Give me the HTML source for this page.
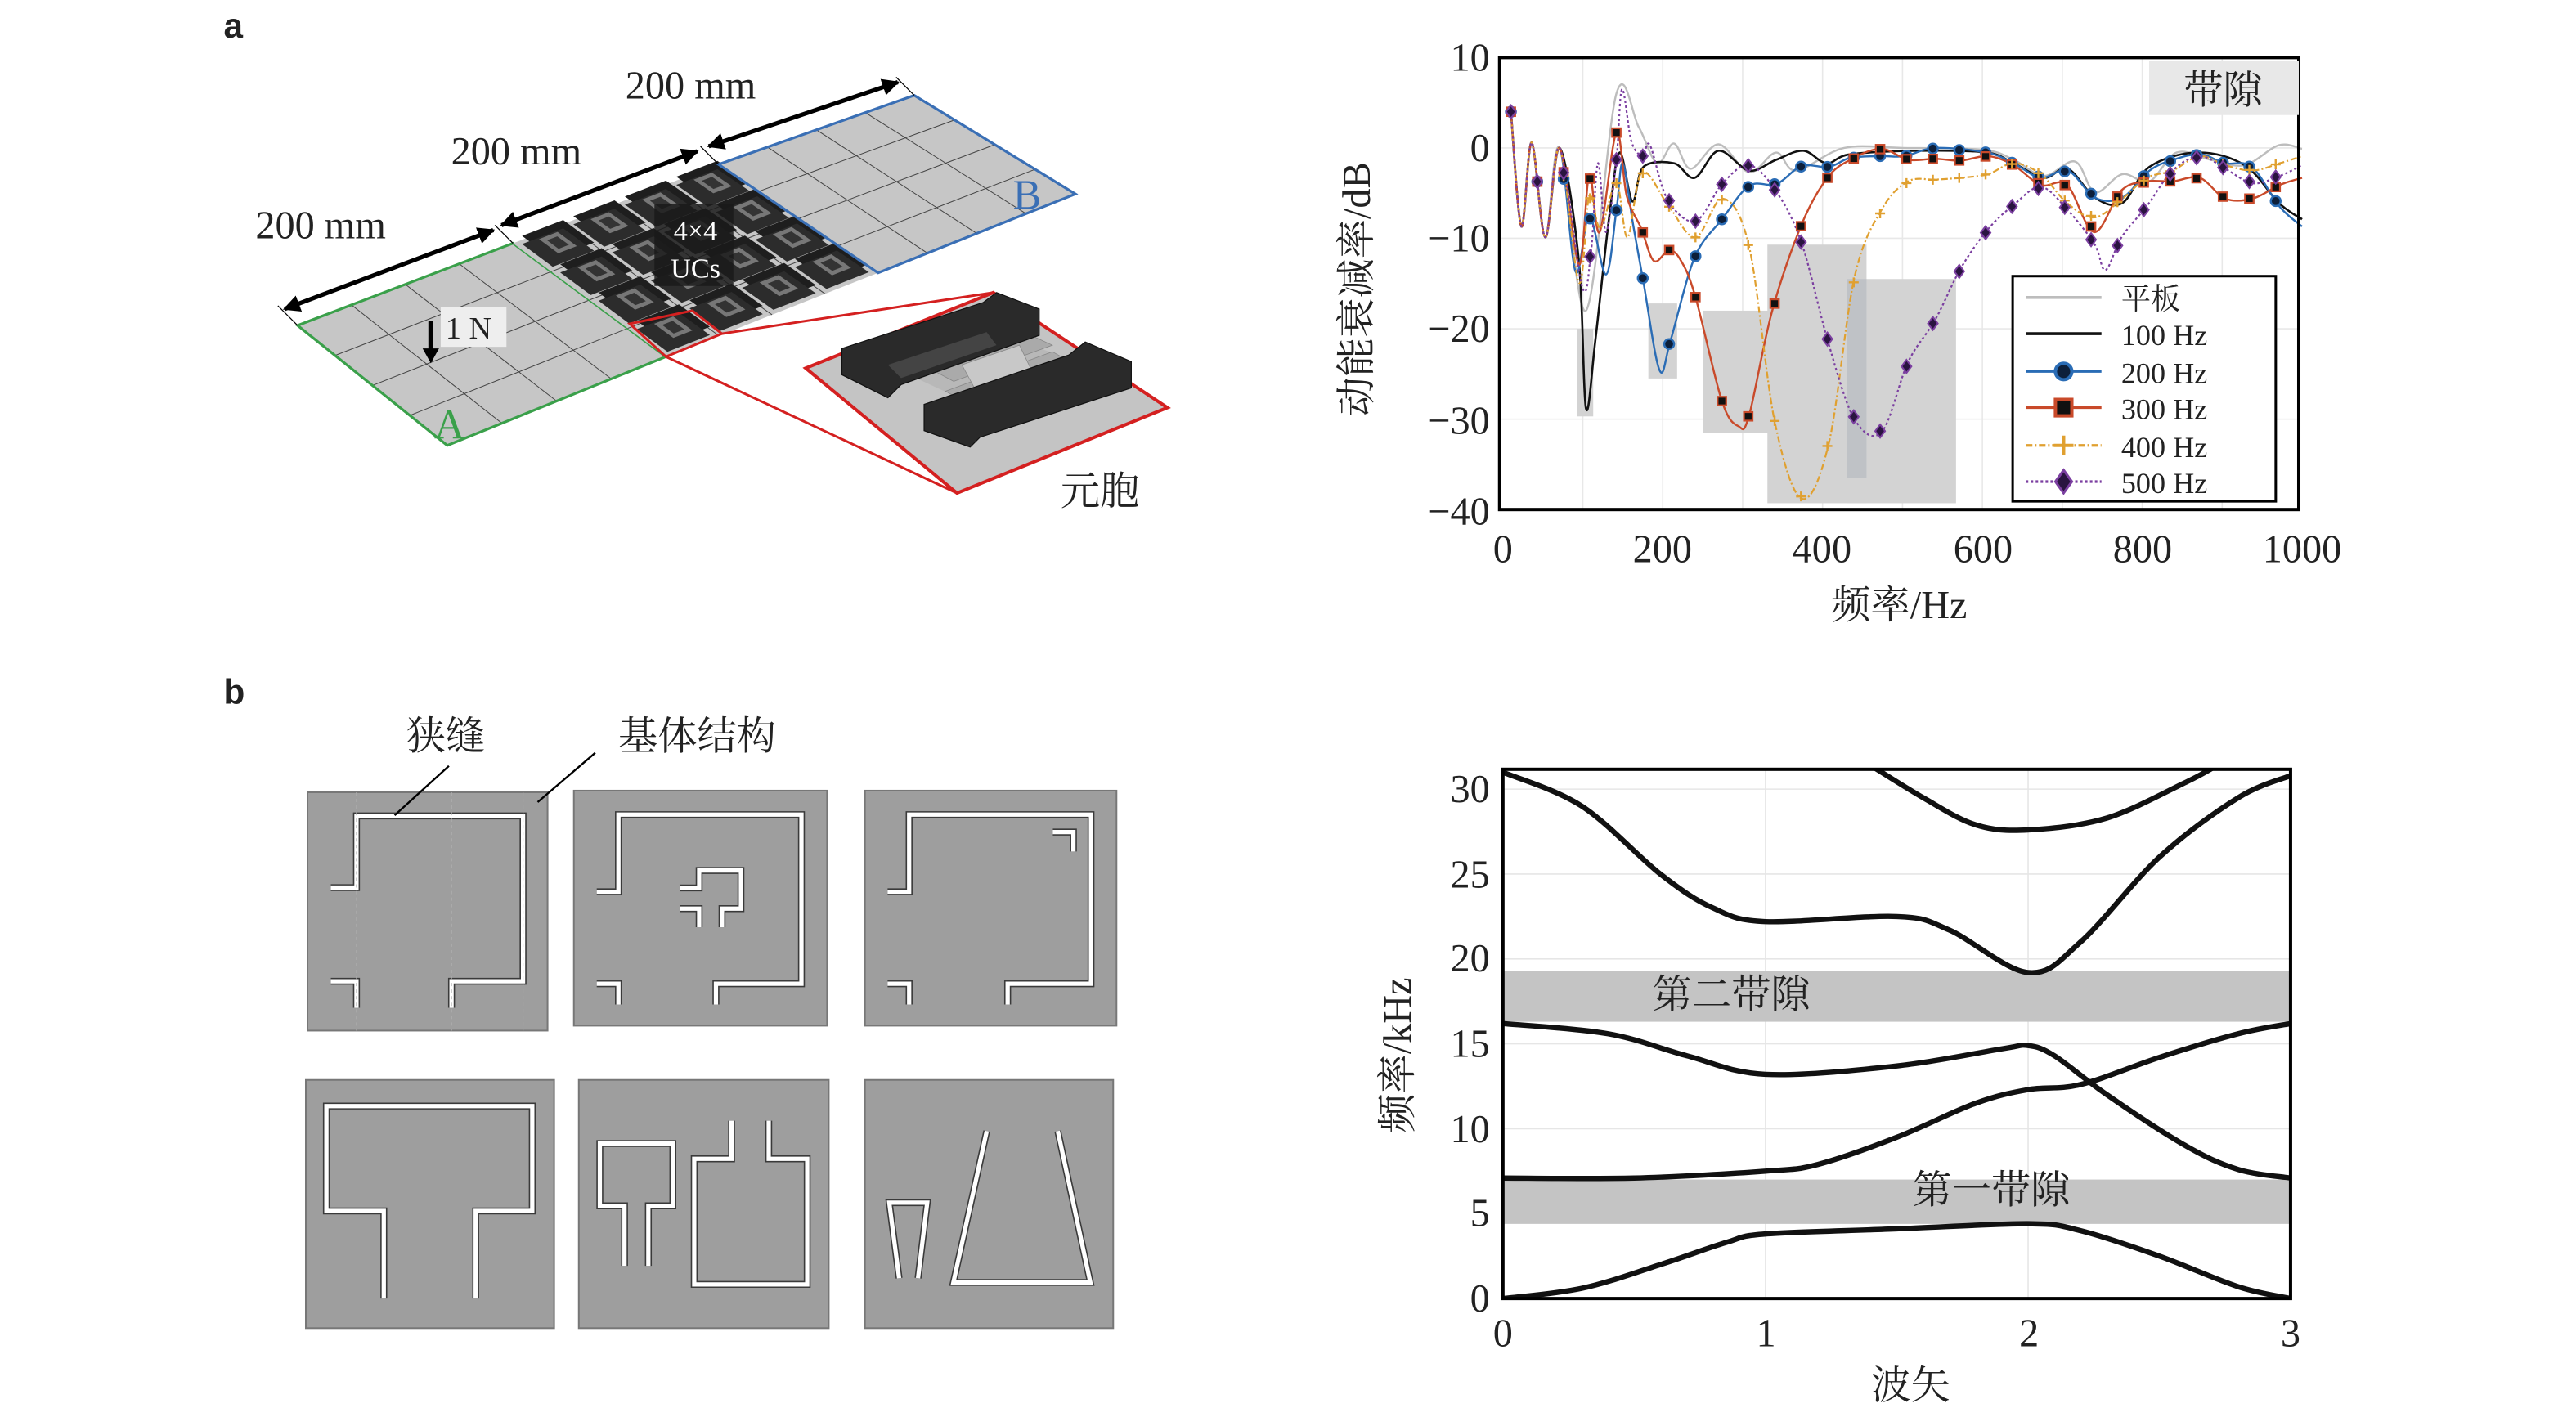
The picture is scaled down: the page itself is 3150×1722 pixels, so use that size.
<!DOCTYPE html>
<html><head><meta charset="utf-8">
<style>
html,body{margin:0;padding:0;background:#fff;}
svg{display:block;}
text{font-family:"Liberation Serif","Noto Serif CJK SC","Noto Sans CJK SC",serif;fill:#222;}
.b{font-family:"Liberation Sans",sans-serif;font-weight:bold;}
</style></head>
<body>
<svg id="s" width="3150" height="1722" viewBox="0 0 1566.6 856.6" preserveAspectRatio="none" xmlns="http://www.w3.org/2000/svg">
<defs>
<marker id="ah" viewBox="0 0 10 10" refX="9" refY="5" markerWidth="4" markerHeight="4" orient="auto-start-reverse"><path d="M0,0 L10,5 L0,10 z" fill="#000"/></marker>
</defs>
<rect width="1570" height="860" fill="#fff"/>
<text x="136" y="23" class="b" font-size="21">a</text>
<text x="136" y="428" class="b" font-size="21">b</text>

<!-- panel a 3D -->
<g id="plates"></g>
<g stroke="#000" stroke-width="0.6">
<line x1="181" y1="198" x2="169" y2="186"/><line x1="312" y1="148" x2="301" y2="137"/>
<line x1="437" y1="100" x2="426" y2="89"/><line x1="556" y1="58" x2="545" y2="47"/>
</g>
<g stroke="#000" stroke-width="2.6" marker-start="url(#ah)" marker-end="url(#ah)">
<line x1="173" y1="188" x2="300" y2="140"/>
<line x1="305" y1="137" x2="424" y2="92"/>
<line x1="431" y1="89" x2="546" y2="50"/>
</g>
<text x="195" y="145" font-size="24" text-anchor="middle">200 mm</text>
<text x="314" y="100" font-size="24" text-anchor="middle">200 mm</text>
<text x="420" y="60" font-size="24" text-anchor="middle">200 mm</text>
<rect x="268" y="187" width="40" height="24" fill="#eee"/>
<text x="271" y="206" font-size="19">1 N</text>
<line x1="262" y1="195" x2="262" y2="214" stroke="#000" stroke-width="3"/>
<path d="M257,212 L267,212 L262,221 z" fill="#000"/>
<text x="264" y="267" font-size="26" style="fill:#3aa04a">A</text>
<text x="616" y="127" font-size="26" style="fill:#3a6fb5">B</text>
<rect x="398" y="124" width="48" height="50" fill="#1a1a1a" opacity="0.85"/>
<text x="423" y="146" font-size="17" text-anchor="middle" style="fill:#fff">4×4</text>
<text x="423" y="169" font-size="17" text-anchor="middle" style="fill:#fff">UCs</text>
<!-- red zoom -->
<polygon points="383,197 421,189 439,203 405,217" fill="none" stroke="#d42020" stroke-width="1.5"/>
<line x1="439" y1="203" x2="604" y2="178" stroke="#d42020" stroke-width="1.5"/>
<line x1="405" y1="217" x2="582" y2="300" stroke="#d42020" stroke-width="1.5"/>
<polygon points="490,224 604,178 710,248 582,300" fill="#c4c4c4" stroke="#d42020" stroke-width="2"/>
<!-- unit cell 3D -->
<polygon points="540,222 600,200 660,222 600,250" fill="#b8b8b8"/>
<g fill="#aaa" stroke="#888" stroke-width="0.4">
<polygon points="548,215 610,196 640,210 580,232"/>
<polygon points="575,238 640,214 665,228 600,252"/>
<polygon points="585,222 620,210 632,235 598,246" fill="#c8c8c8"/>
</g>
<g fill="#2a2a2a" stroke="#111" stroke-width="0.6">
<polygon points="512,212 598,184 606,178 632,188 632,204 548,234 540,242 512,228"/>
<polygon points="562,246 650,216 660,208 688,220 688,236 596,266 590,272 562,262"/>
</g>
<polygon points="540,222 600,202 606,210 548,230" fill="#444"/>
<text x="645" y="307" font-size="24" style="fill:#222">元胞</text>

<!-- top chart -->
<g id="topgrid" stroke="#e8e8e8" stroke-width="0.8"></g>
<g id="gaps" fill="#d4d4d4"></g>
<g id="curves" fill="none"></g>
<g id="marks"></g>
<rect x="912" y="35" width="486" height="275" fill="none" stroke="#000" stroke-width="2"/>
<rect x="1307" y="37" width="91" height="33" fill="#e8e8e8"/>
<text x="1352" y="63" font-size="24" text-anchor="middle">带隙</text>
<rect x="1224" y="168" width="160" height="137" fill="#fff" stroke="#000" stroke-width="1.5"/>
<g id="legend"></g>
<g font-size="18">
<text x="1290" y="188">平板</text>
<text x="1290" y="210">100 Hz</text>
<text x="1290" y="233">200 Hz</text>
<text x="1290" y="255">300 Hz</text>
<text x="1290" y="278">400 Hz</text>
<text x="1290" y="300">500 Hz</text>
</g>
<g font-size="24" text-anchor="end">
<text x="906" y="43">10</text>
<text x="906" y="98">0</text>
<text x="906" y="153">−10</text>
<text x="906" y="208">−20</text>
<text x="906" y="264">−30</text>
<text x="906" y="319">−40</text>
</g>
<g font-size="24" text-anchor="middle">
<text x="914" y="342">0</text>
<text x="1011" y="342">200</text>
<text x="1108" y="342">400</text>
<text x="1206" y="342">600</text>
<text x="1303" y="342">800</text>
<text x="1400" y="342">1000</text>
<text x="1155" y="376">频率/Hz</text>
</g>
<text transform="translate(833,176) rotate(-90)" font-size="24" text-anchor="middle">动能衰减率/dB</text>

<!-- panel b cells -->
<g id="cells"></g>
<text x="247" y="456" font-size="24">狭缝</text>
<text x="376" y="456" font-size="24">基体结构</text>
<line x1="273" y1="466" x2="240" y2="496" stroke="#000" stroke-width="1.2"/>
<line x1="362" y1="458" x2="327" y2="488" stroke="#000" stroke-width="1.2"/>

<!-- band chart -->
<g id="bgrid" stroke="#e6e6e6" stroke-width="0.8"></g>
<rect x="914" y="717.6" width="479" height="27" fill="#c4c4c4"/>
<rect x="914" y="590.6" width="479" height="31" fill="#c4c4c4"/>
<text x="1005" y="613" font-size="24">第二带隙</text>
<text x="1163" y="732" font-size="24">第一带隙</text>
<g id="bands" fill="none" stroke="#111" stroke-width="3.2"></g>
<rect x="914" y="468" width="479" height="322" fill="none" stroke="#000" stroke-width="2"/>
<g font-size="24" text-anchor="end">
<text x="906" y="488">30</text>
<text x="906" y="540">25</text>
<text x="906" y="591">20</text>
<text x="906" y="643">15</text>
<text x="906" y="695">10</text>
<text x="906" y="746">5</text>
<text x="906" y="798">0</text>
</g>
<g font-size="24" text-anchor="middle">
<text x="914" y="819">0</text>
<text x="1074" y="819">1</text>
<text x="1234" y="819">2</text>
<text x="1393" y="819">3</text>
<text x="1162" y="851">波矢</text>
</g>
<text transform="translate(858,642) rotate(-90)" font-size="24" text-anchor="middle">频率/kHz</text>
</svg>
<script>
(function(){
var NS="http://www.w3.org/2000/svg";
function el(p,t,a){var e=document.createElementNS(NS,t);for(var k in a)e.setAttribute(k,a[k]);p.appendChild(e);return e;}
function $(i){return document.getElementById(i);}
function L(a,b,t){return [a[0]+(b[0]-a[0])*t,a[1]+(b[1]-a[1])*t];}
function bil(c,u,v){var a=L(c[0],c[1],u),b=L(c[3],c[2],u);return L(a,b,v);}
function pts(a){return a.map(function(p){return p[0].toFixed(1)+","+p[1].toFixed(1)}).join(" ");}
var g=$("plates");
var A=[[181,198],[312,148],[405,217],[272,271]],M=[[312,148],[437,100],[534,166],[405,217]],B=[[437,100],[556,58],[654,118],[534,166]];
[A,M,B].forEach(function(c,k){
 el(g,"polygon",{points:pts(c),fill:"#c6c6c6"});
 for(var i=1;i<4;i++){
  var a=L(c[0],c[1],i/4),b=L(c[3],c[2],i/4);el(g,"line",{x1:a[0],y1:a[1],x2:b[0],y2:b[1],stroke:"#444","stroke-width":0.5});
  a=L(c[0],c[3],i/4);b=L(c[1],c[2],i/4);el(g,"line",{x1:a[0],y1:a[1],x2:b[0],y2:b[1],stroke:"#444","stroke-width":0.5});
 }
 if(k==1){
  for(var i=0;i<4;i++)for(var j=0;j<4;j++){
   var q=function(u0,v0,u1,v1,dy){return [bil(c,(i+u0)/4,(j+v0)/4),bil(c,(i+u1)/4,(j+v0)/4),bil(c,(i+u1)/4,(j+v1)/4),bil(c,(i+u0)/4,(j+v1)/4)].map(function(p){return [p[0],p[1]-dy]});};
   el(g,"polygon",{points:pts(q(0.1,0.1,0.9,0.9,5)),fill:"#1e1e1e"});
   el(g,"polygon",{points:pts(q(0.1,0.1,0.9,0.9,0)),fill:"#2c2c2c"});
   el(g,"polygon",{points:pts(q(0.32,0.25,0.68,0.75,3)),fill:"#777"});
   el(g,"polygon",{points:pts(q(0.4,0.35,0.6,0.65,3)),fill:"#333"});
  }
 }
 el(g,"polygon",{points:pts(c),fill:"none",stroke:k==0?"#3aa04a":(k==2?"#3a6fb5":"none"),"stroke-width":1.6});
});
var tg=$("topgrid");
function X(h){return 914+0.486*h;} function Y(d){return 90-5.5*d;}
for(var h=100;h<1000;h+=100)el(tg,"line",{x1:X(h),y1:35,x2:X(h),y2:310});
for(var d=0;d>-40;d-=10)el(tg,"line",{x1:912,y1:Y(d),x2:1398,y2:Y(d)});
var gp=$("gaps");
[[93,113,-20,-29.7],[182,218,-17.2,-25.5],[250,336,-18,-31.5],[331,455,-10.7,-39.3],[431,567,-14.5,-39.3]].forEach(function(r){
 el(gp,"rect",{x:X(r[0]),y:Y(r[2]),width:X(r[1])-X(r[0]),height:Y(r[3])-Y(r[2]),fill:"#d3d3d3"});});
el(gp,"rect",{x:X(431),y:Y(-14.5),width:X(455)-X(431),height:Y(-36.5)-Y(-14.5),fill:"#bfc2c6"});
var pre=[[10,4],[23,-8.7],[36,0.6],[53,-9.9],[71,0]];
var D={
plate:[[104,-18],[142,6],[170,2.3],[193,-1.7],[214,0.5],[235,-2.3],[270,0.4],[308,-2.7],[342,-0.5],[367,-2.5],[427,0],[500,0],[600,-0.2],[639,-1.3],[677,-3.1],[716,-1.5],[741,-4.9],[775,-2.9],[809,-3.7],[843,-0.5],[886,-1.3],[928,-1.9],[971,0.3],[1000,-0.1]],
h100:[[95,-12.5],[104,-28.8],[116,-21],[133,-7.7],[146,-0.5],[162,-5.9],[176,-2.1],[214,-1.7],[240,-3.3],[270,-0.3],[308,-2.5],[342,-1.3],[376,-0.3],[405,-1.7],[435,-0.7],[520,-0.3],[605,-0.5],[639,-1.7],[677,-3.3],[707,-2.3],[741,-5.5],[775,-6.1],[809,-2.1],[869,-0.5],[928,-1.9],[971,-6.1],[1000,-7.9]],
h200:[[91,-13.7],[108,-7.5],[129,-14],[142,-6.9],[150,-1.7],[163,-8.5],[176,-14.9],[196,-24.6],[210,-21.2],[240,-12.1],[274,-7.9],[308,-4.2],[342,-4],[374,-2],[408,-2.1],[435,-1.1],[473,-0.9],[503,-0.9],[541,0],[605,-0.5],[639,-1.7],[673,-3.3],[707,-2.5],[741,-5.5],[775,-5.5],[809,-2.5],[839,-1.3],[873,-0.7],[903,-1.7],[937,-2.1],[972,-6.5],[1000,-8.7]],
h300:[[95,-12.9],[108,-2.9],[121,-9.3],[142,1.7],[155,-5.3],[173,-8.9],[189,-12.5],[208,-11.3],[223,-12.5],[241,-16.5],[274,-28],[295,-30.8],[308,-29.6],[337,-18],[374,-8.4],[406,-3.3],[435,-1.3],[473,-0.1],[507,-1.3],[541,-1.2],[573,-1.4],[607,-0.9],[639,-1.9],[673,-4.1],[706,-4.1],[740,-9.3],[774,-4.7],[806,-3.7],[838,-3.7],[872,-3.3],[904,-5.6],[938,-5.6],[972,-4.1],[1000,-3.3]],
h400:[[95,-14.9],[108,-5.3],[122,-8.9],[142,-3.9],[156,-9.9],[174,-2.7],[208,-6.5],[241,-9.9],[275,-5.6],[308,-10.9],[340,-30.2],[374,-38.8],[408,-32.6],[440,-14.3],[474,-6.8],[507,-3.7],[541,-3.5],[573,-3.3],[607,-2.9],[639,-1.7],[673,-2.9],[706,-6.1],[740,-7.7],[774,-5.7],[806,-3.3],[838,-2.5],[872,-0.9],[904,-1.9],[938,-2.5],[972,-1.7],[1000,-0.9]],
h500:[[99,-15.3],[110,-11.7],[119,-1.7],[129,-9.3],[142,-1.3],[149,6.5],[161,0.7],[175,-0.9],[184,0.3],[206,-5.7],[241,-8.1],[275,-3.9],[308,-1.9],[342,-4.8],[374,-10.6],[408,-21.8],[440,-30],[474,-31.4],[507,-23.7],[541,-19],[573,-13.3],[607,-9],[639,-6.3],[673,-4.3],[706,-6.8],[740,-10.6],[754,-13.5],[774,-9.9],[806,-6.4],[838,-2.5],[872,-0.9],[904,-2.3],[938,-3.9],[972,-3.1],[1000,-1.9]]};
function cr(P){var s="M"+P[0][0].toFixed(1)+","+P[0][1].toFixed(1);
 for(var i=0;i<P.length-1;i++){var p0=P[Math.max(0,i-1)],p1=P[i],p2=P[i+1],p3=P[Math.min(P.length-1,i+2)];
  var c1=[p1[0]+(p2[0]-p0[0])/6,p1[1]+(p2[1]-p0[1])/6],c2=[p2[0]-(p3[0]-p1[0])/6,p2[1]-(p3[1]-p1[1])/6];
  s+=" C"+c1[0].toFixed(1)+","+c1[1].toFixed(1)+" "+c2[0].toFixed(1)+","+c2[1].toFixed(1)+" "+p2[0].toFixed(1)+","+p2[1].toFixed(1);}
 return s;}
var st={plate:["#bdbdbd",1.2,""],h100:["#111",1.3,""],h200:["#2a6cb5",1.2,""],h300:["#c94a2a",1.2,""],h400:["#e0a030",1.1,"4 1.5 1 1.5"],h500:["#7b3fa0",1.1,"1.5 1.5"]};
var cv=$("curves"),mk=$("marks");
function drawMark(p,k,x,y){
 if(k=="h200")el(p,"circle",{cx:x,cy:y,r:3,fill:"#0d1f3a",stroke:"#2a6cb5","stroke-width":1.2});
 if(k=="h300")el(p,"rect",{x:x-2.6,y:y-2.6,width:5.2,height:5.2,fill:"#111",stroke:"#c94a2a","stroke-width":1.1});
 if(k=="h400"){el(p,"path",{d:"M"+(x-3)+","+y+"H"+(x+3)+"M"+x+","+(y-3)+"V"+(y+3),stroke:"#e0a030","stroke-width":1.2});}
 if(k=="h500")el(p,"polygon",{points:x+","+(y-4)+" "+(x+3)+","+y+" "+x+","+(y+4)+" "+(x-3)+","+y,fill:"#2a1440",stroke:"#7b3fa0","stroke-width":1});
}
["plate","h100","h200","h300","h400","h500"].forEach(function(k){
 var data=pre.concat(D[k]);var P=data.map(function(p){return [X(p[0]),Y(p[1])]});
 el(cv,"path",{d:cr(P),stroke:st[k][0],"stroke-width":st[k][1],"stroke-dasharray":st[k][2]});
 if(k=="plate"||k=="h100")return;
 for(var h=10;h<=975;h+=33){
  var v=0;for(var i=0;i<data.length-1;i++){if(h>=data[i][0]&&h<=data[i+1][0]){v=data[i][1]+(data[i+1][1]-data[i][1])*(h-data[i][0])/(data[i+1][0]-data[i][0]);break;}}
  drawMark(mk,k,X(h),Y(v));
 }
});
var lg=$("legend");var ys=[181,203,226,248,271,293];
["plate","h100","h200","h300","h400","h500"].forEach(function(k,i){
 el(lg,"line",{x1:1232,y1:ys[i],x2:1278,y2:ys[i],stroke:st[k][0],"stroke-width":k=="plate"||k=="h100"?1.8:1.6,"stroke-dasharray":st[k][2]});
 if(i>1){if(k=="h400"){el(lg,"path",{d:"M1249,"+ys[i]+"H1261M1255,"+(ys[i]-6)+"V"+(ys[i]+6),stroke:"#e0a030","stroke-width":2});}
  else if(k=="h200")el(lg,"circle",{cx:1255,cy:ys[i],r:5,fill:"#0d1f3a",stroke:"#2a6cb5","stroke-width":2});
  else if(k=="h300")el(lg,"rect",{x:1250,y:ys[i]-5,width:10,height:10,fill:"#111",stroke:"#c94a2a","stroke-width":2});
  else el(lg,"polygon",{points:"1255,"+(ys[i]-7)+" 1260,"+ys[i]+" 1255,"+(ys[i]+7)+" 1250,"+ys[i],fill:"#2a1440",stroke:"#7b3fa0","stroke-width":1.5});}
});
var cg=$("cells");
var cells=[
 [187,482,146,145,[[[.097,.4],[.204,.4],[.204,.099],[.898,.099],[.898,.793],[.6,.793],[.6,.904]],[[.097,.793],[.204,.793],[.204,.904]]],1],
 [349,481,154,143,[[[.09,.43],[.176,.43],[.176,.102],[.899,.102],[.899,.822],[.561,.822],[.561,.91]],[[.09,.822],[.176,.822],[.176,.91]],[[.419,.414],[.495,.414],[.495,.34],[.66,.34],[.66,.502],[.585,.502],[.585,.581]],[[.419,.502],[.495,.502],[.495,.581]]]],
 [526,481,153,143,[[[.09,.43],[.176,.43],[.176,.102],[.899,.102],[.899,.822],[.567,.822],[.567,.91]],[[.09,.822],[.176,.822],[.176,.91]],[[.747,.176],[.829,.176],[.829,.259]]]],
 [186,657,151,151,[[[.314,.881],[.314,.528],[.083,.528],[.083,.105],[.912,.105],[.912,.528],[.684,.528],[.684,.881]]]],
 [352,657,152,151,[[[.183,.749],[.183,.507],[.084,.507],[.084,.256],[.376,.256],[.376,.507],[.278,.507],[.278,.749]],[[.611,.164],[.611,.318],[.462,.318],[.462,.824],[.914,.824],[.914,.318],[.76,.318],[.76,.164]]]],
 [526,657,151,151,[[[.138,.799],[.098,.495],[.251,.495],[.214,.799]],[[.491,.206],[.356,.816],[.908,.816],[.777,.206]]]]
];
cells.forEach(function(c){
 el(cg,"rect",{x:c[0],y:c[1],width:c[2],height:c[3],fill:"#9e9e9e",stroke:"#777","stroke-width":1});
 c[4].forEach(function(pl){
  var P=pl.map(function(p){return [c[0]+p[0]*c[2],c[1]+p[1]*c[3]]});
  el(cg,"polyline",{points:pts(P),fill:"none",stroke:"#3a3a3a","stroke-width":4.2,"stroke-linejoin":"miter"});
  el(cg,"polyline",{points:pts(P),fill:"none",stroke:"#fff","stroke-width":2.6,"stroke-linejoin":"miter"});
 });
 if(c[5]){for(var i=1;i<4;i++){el(cg,"line",{x1:c[0]+c[2]*[0,.204,.6,.898][i],y1:c[1],x2:c[0]+c[2]*[0,.204,.6,.898][i],y2:c[1]+c[3],stroke:"#b0b0b0","stroke-width":0.5,"stroke-dasharray":"2 2"});}}
});
var bg=$("bgrid");
function BX(x){return 914+159.7*x;} function BY(f){return 790-10.33*f;}
for(var i=1;i<3;i++)el(bg,"line",{x1:BX(i),y1:468,x2:BX(i),y2:790});
for(var f=5;f<=30;f+=5)el(bg,"line",{x1:914,y1:BY(f),x2:1393,y2:BY(f)});
var bands=[
 [[0,0],[0.3,0.6],[0.6,2],[0.85,3.3],[1,3.8],[1.5,4.1],[2,4.4],[2.2,4],[2.5,2.5],[2.8,0.7],[3,0]],
 [[0,7.1],[0.5,7.1],[1,7.5],[1.2,7.9],[1.5,9.5],[1.8,11.5],[2,12.3],[2.2,12.6],[2.5,14.2],[2.8,15.6],[3,16.2]],
 [[0,16.2],[0.4,15.6],[0.7,14.3],[1,13.2],[1.5,13.7],[1.9,14.7],[2,14.9],[2.1,14.3],[2.3,12],[2.6,9],[2.8,7.6],[3,7.1]],
 [[0,31],[0.3,29],[0.6,25],[0.8,23],[1,22.2],[1.5,22.5],[1.7,21.7],[2,19.2],[2.2,21],[2.5,26],[2.8,29.5],[3,30.8]],
 [[1.4,31.4],[1.6,29.5],[1.8,27.9],[2,27.6],[2.3,28.3],[2.6,30.4],[2.72,31.4]]];
var bd=$("bands");
el(el($("s"),"clipPath",{id:"bc"}),"rect",{x:914,y:468,width:479,height:322});
bd.setAttribute("clip-path","url(#bc)");
bands.forEach(function(b){el(bd,"path",{d:cr(b.map(function(p){return [BX(p[0]),BY(p[1])]}))});});
})();
</script>
</body></html>
